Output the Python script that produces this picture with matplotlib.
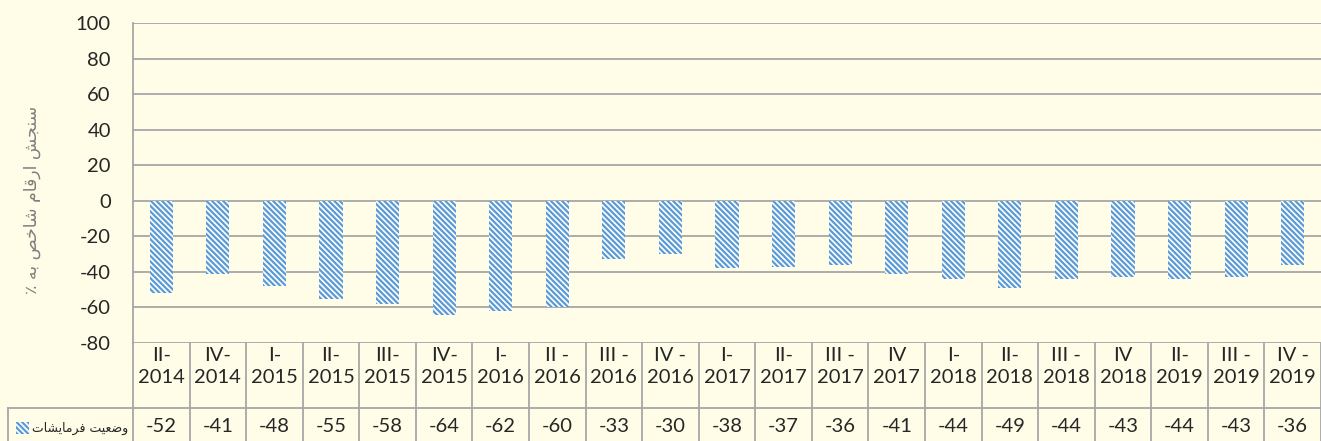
import matplotlib
matplotlib.use("Agg")
import matplotlib.pyplot as plt
from matplotlib.lines import Line2D
from matplotlib.patches import Rectangle

# data
quarters = ["II-\n2014", "IV-\n2014", "I-\n2015", "II-\n2015", "III-\n2015", "IV-\n2015",
            "I-\n2016", "II -\n2016", "III -\n2016", "IV -\n2016", "I-\n2017", "II-\n2017",
            "III -\n2017", "IV\n2017", "I-\n2018", "II-\n2018", "III -\n2018", "IV\n2018",
            "II-\n2019", "III -\n2019", "IV -\n2019"]
orders = [-52, -41, -48, -55, -58, -64, -62, -60, -33, -30, -38, -37, -36, -41,
          -44, -49, -44, -43, -44, -43, -36]
series_name = "وضعیت فرمایشات"
y_title = "سنجش ارقام شاخص به ٪"
y_ticks = [-80, -60, -40, -20, 0, 20, 40, 60, 80, 100]

# matplotlib has no arabic shaping, so pick contextual forms by hand
# (isolated, final, initial, medial)
FORMS = {
    'ا': ('\uFE8D', '\uFE8E', None, None),
    'ب': ('\uFE8F', '\uFE90', '\uFE91', '\uFE92'),
    'ت': ('\uFE95', '\uFE96', '\uFE97', '\uFE98'),
    'ج': ('\uFE9D', '\uFE9E', '\uFE9F', '\uFEA0'),
    'خ': ('\uFEA5', '\uFEA6', '\uFEA7', '\uFEA8'),
    'ر': ('\uFEAD', '\uFEAE', None, None),
    'س': ('\uFEB1', '\uFEB2', '\uFEB3', '\uFEB4'),
    'ش': ('\uFEB5', '\uFEB6', '\uFEB7', '\uFEB8'),
    'ص': ('\uFEB9', '\uFEBA', '\uFEBB', '\uFEBC'),
    'ض': ('\uFEBD', '\uFEBE', '\uFEBF', '\uFEC0'),
    'ع': ('\uFEC9', '\uFECA', '\uFECB', '\uFECC'),
    'ف': ('\uFED1', '\uFED2', '\uFED3', '\uFED4'),
    'ق': ('\uFED5', '\uFED6', '\uFED7', '\uFED8'),
    'م': ('\uFEE1', '\uFEE2', '\uFEE3', '\uFEE4'),
    'ن': ('\uFEE5', '\uFEE6', '\uFEE7', '\uFEE8'),
    'ه': ('\uFEE9', '\uFEEA', '\uFEEB', '\uFEEC'),
    'و': ('\uFEED', '\uFEEE', None, None),
    'ی': ('\uFBFC', '\uFBFD', '\uFBFE', '\uFBFF'),
}


def shape(s):
    out = []
    for i, c in enumerate(s):
        if c not in FORMS:
            out.append(c)
            continue
        prev = s[i - 1] if i > 0 else ''
        nxt = s[i + 1] if i + 1 < len(s) else ''
        f = FORMS[c]
        jp = prev in FORMS and FORMS[prev][2] is not None
        jn = f[2] is not None and nxt in FORMS
        if jp and jn:
            out.append(f[3])
        elif jp:
            out.append(f[1])
        elif jn:
            out.append(f[2])
        else:
            out.append(f[0])
    return ''.join(reversed(out))


W, H = 1321, 441
bg = '#FFFDE7'
grid_c = '#A6A6A6'
blue = '#5B9BD5'
txt_c = '#262626'
hatch = '\\' * 6

plt.rcParams['font.family'] = ['Lato', 'DejaVu Sans']
plt.rcParams['hatch.linewidth'] = 1.6
plt.rcParams['axes.unicode_minus'] = False

fig = plt.figure(figsize=(W / 100, H / 100), dpi=100, facecolor=bg)
ax = fig.add_axes([133 / W, 1 - 343 / H, 1 - 133 / W, 320 / H])
ax.set_facecolor(bg)

x = list(range(len(quarters)))
ax.bar(x, orders, width=0.41, facecolor='white', edgecolor=blue,
       linewidth=0, hatch=hatch, zorder=3)

ax.set_xlim(-0.5, len(quarters) - 0.5)
ax.set_ylim(-80, 100)
ax.set_yticks(y_ticks)
ax.grid(axis='y', color=grid_c, linewidth=1.3, zorder=0)
for s in ['top', 'right', 'bottom']:
    ax.spines[s].set_visible(False)
ax.spines['left'].set_color(grid_c)
ax.spines['left'].set_linewidth(1.3)
ax.tick_params(axis='y', length=0, pad=16, labelsize=14.5, labelcolor=txt_c)
ax.set_xticks(x)
ax.set_xticklabels(quarters, linespacing=1.35)
ax.tick_params(axis='x', length=0, pad=3, labelsize=14.5, labelcolor=txt_c)

# data table below the plot
xt = ax.get_xaxis_transform()
bottom = -(H - 343) / 320
for k in range(len(quarters) + 1):
    ax.add_line(Line2D([k - 0.5, k - 0.5], [0, bottom], transform=xt,
                       color=grid_c, linewidth=1.3, clip_on=False))
row_y = -(427 - 343) / 320
for xi, v in zip(x, orders):
    ax.text(xi, row_y, str(v), transform=xt, ha='center', va='center',
            fontsize=14.5, color=txt_c, clip_on=False)

fig.add_artist(Line2D([8 / W, 1], [1 - 408 / H] * 2, transform=fig.transFigure,
                      color=grid_c, linewidth=1.3))
fig.add_artist(Line2D([8 / W, 8 / W], [1 - 408 / H, 0], transform=fig.transFigure,
                      color=grid_c, linewidth=1.3))

# legend key in the row header
fig.add_artist(Rectangle((16 / W, 1 - 434 / H), 13 / W, 12 / H, transform=fig.transFigure,
                         facecolor='white', edgecolor=blue, linewidth=0, hatch=hatch))
fig.text(128 / W, 1 - 428 / H, shape(series_name), ha='right', va='center',
         fontsize=9, color=txt_c, family=['DejaVu Sans'])

fig.text(32 / W, 1 - 200 / H, shape(y_title), rotation=90, ha='center', va='center',
         fontsize=12.5, color='#7F7F7F', family=['DejaVu Sans'])

fig.savefig('out.png', dpi=100, facecolor=bg)
